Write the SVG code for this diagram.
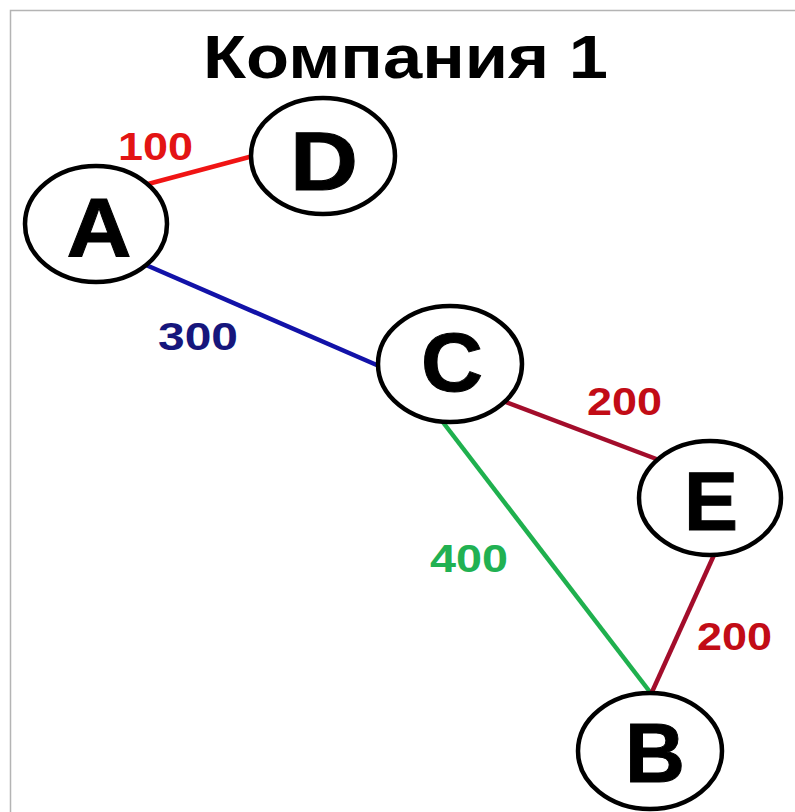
<svg xmlns="http://www.w3.org/2000/svg" width="795" height="812" viewBox="0 0 795 812">
  <style>
    .node ellipse { fill: #ffffff; stroke: #000000; stroke-width: 4.5; }
    .node text { font-family: "Liberation Sans", Arial, sans-serif; font-weight: bold; font-size: 84px; fill: #000000; text-anchor: middle; stroke: #000000; stroke-width: 1; }
    .edge { fill: none; stroke-width: 4.5; stroke-linecap: butt; }
    .weight { font-family: "Liberation Sans", Arial, sans-serif; font-weight: bold; font-size: 39px; }
    .title { font-family: "Liberation Sans", Arial, sans-serif; font-weight: bold; font-size: 62px; fill: #000000; }
  </style>
  <rect width="795" height="812" fill="#ffffff"/>
  <!-- frame -->
  <path d="M10.5 812 V10.5 H795" fill="none" stroke="#b4b4b4" stroke-width="1.5"/>

  <text class="title" x="203" y="78" textLength="405" lengthAdjust="spacingAndGlyphs">Компания 1</text>

  <g id="connectors">
    <line class="edge" x1="148" y1="184" x2="253" y2="156" stroke="#f01414"/>
    <line class="edge" x1="146" y1="265" x2="379" y2="366" stroke="#1212a8"/>
    <line class="edge" x1="503" y1="401" x2="659" y2="460" stroke="#a30d2b"/>
    <line class="edge" x1="442" y1="421" x2="650" y2="692" stroke="#1fb04e"/>
    <line class="edge" x1="714" y1="555" x2="652" y2="692" stroke="#a30d2b"/>
    <text class="weight" x="118" y="160" textLength="75" lengthAdjust="spacingAndGlyphs" fill="#e31414">100</text>
    <text class="weight" x="158" y="350" textLength="80" lengthAdjust="spacingAndGlyphs" fill="#16167c">300</text>
    <text class="weight" x="587" y="415" textLength="75" lengthAdjust="spacingAndGlyphs" fill="#c20c16">200</text>
    <text class="weight" x="430" y="572" textLength="78" lengthAdjust="spacingAndGlyphs" fill="#21b152">400</text>
    <text class="weight" x="697" y="650" textLength="75" lengthAdjust="spacingAndGlyphs" fill="#c20c16">200</text>
  </g>

  <g id="node-D" class="node">
    <ellipse cx="323" cy="156" rx="72" ry="58"/>
    <text x="324" y="190" textLength="68" lengthAdjust="spacingAndGlyphs">D</text>
  </g>
  <g id="node-A" class="node">
    <ellipse cx="96" cy="224" rx="71" ry="58"/>
    <text x="99" y="257" textLength="65" lengthAdjust="spacingAndGlyphs">A</text>
  </g>
  <g id="node-C" class="node">
    <ellipse cx="450" cy="364" rx="72" ry="58"/>
    <text x="452" y="391" textLength="62" lengthAdjust="spacingAndGlyphs">C</text>
  </g>
  <g id="node-E" class="node">
    <ellipse cx="710" cy="498" rx="71" ry="57"/>
    <text x="711" y="530" textLength="54" lengthAdjust="spacingAndGlyphs">E</text>
  </g>
  <g id="node-B" class="node">
    <ellipse cx="650" cy="751" rx="72" ry="58"/>
    <text x="655" y="782" textLength="60" lengthAdjust="spacingAndGlyphs">B</text>
  </g>
</svg>
